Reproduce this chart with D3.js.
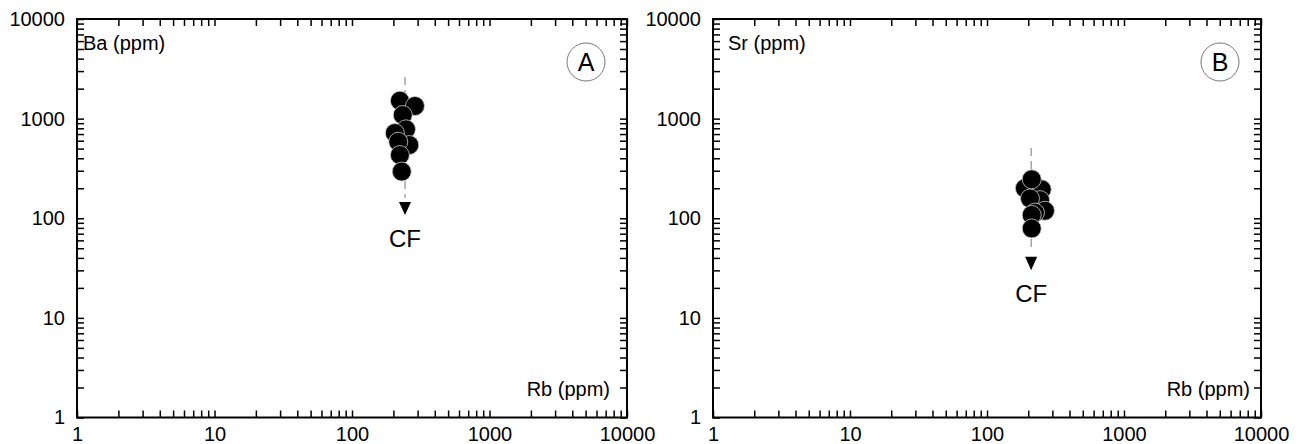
<!DOCTYPE html>
<html>
<head>
<meta charset="utf-8">
<script src="https://cdn.jsdelivr.net/npm/d3@7"></script>
<style>
  html, body { margin: 0; padding: 0; background: #fff; }
  svg { display: block; }
</style>
</head>
<body>
<svg id="chart" width="1306" height="444"></svg>
<script>
// ---- Data ----
const tickLabels = [1, 10, 100, 1000, 10000];

// Panel A: Rb vs Ba
const rbA = [223, 287, 234, 247, 205, 261, 217, 223, 230];
const baA = [1513, 1339, 1087, 781, 717, 543, 586, 431, 294];
// CF trend (Rb, [top, bottom of dashed line], arrow [base, tip])
const cfRbA = 243;
const cfLineA = [2618, 160];
const cfArrowA = [146, 108];

// Panel B: Rb vs Sr
const rbB = [189, 251, 244, 206, 265, 224, 212, 212, 212];
const srB = [200, 195, 152, 158, 119, 114, 108, 246, 79];
const cfRbB = 210;
const cfLineB = [507, 48];
const cfArrowB = [41, 30];

const panelLetters = ["A", "B"];
const yTitles = ["Ba (ppm)", "Sr (ppm)"];
const xTitle = "Rb (ppm)";

// ---- Layout ----
const FONT = "'Liberation Sans', Arial, Helvetica, sans-serif";
const svg = d3.select("#chart");
svg.append("rect").attr("width", 1306).attr("height", 444).attr("fill", "#fff");

const panels = [
  { left: 77, right: 627, top: 19, bottom: 417.5, xs: rbA, ys: baA, cfRb: cfRbA, cfLine: cfLineA, cfArrow: cfArrowA,
    letter: panelLetters[0], yTitle: yTitles[0], yTitleDx: 6, xTitleDx: 17 },
  { left: 713, right: 1261, top: 19, bottom: 417.5, xs: rbB, ys: srB, cfRb: cfRbB, cfLine: cfLineB, cfArrow: cfArrowB,
    letter: panelLetters[1], yTitle: yTitles[1], yTitleDx: 15, xTitleDx: 11 }
];

// all tick values 1..9 x 10^k
const allTicks = [];
for (let k = 0; k < 4; k++) for (let m = 1; m <= 9; m++) allTicks.push(m * Math.pow(10, k));
allTicks.push(10000);

const fmt = d => tickLabels.includes(d) ? String(d) : "";

panels.forEach(p => {
  const x = d3.scaleLog().domain([1, 10000]).range([p.left, p.right]);
  const y = d3.scaleLog().domain([1, 10000]).range([p.bottom, p.top]);
  const g = svg.append("g");

  const styleAxis = sel => {
    sel.select(".domain").remove();
    sel.selectAll(".tick line").attr("stroke", "#000").attr("stroke-width", 1.5);
    sel.selectAll("text").attr("font-family", FONT).attr("font-size", 20).attr("fill", "#000");
  };

  g.append("g").attr("transform", `translate(0,${p.bottom})`)
    .call(d3.axisBottom(x).tickValues(allTicks).tickFormat(fmt).tickSizeInner(-7).tickSizeOuter(0).tickPadding(9))
    .call(styleAxis);
  g.append("g").attr("transform", `translate(0,${p.top})`)
    .call(d3.axisTop(x).tickValues(allTicks).tickFormat("").tickSizeInner(-7).tickSizeOuter(0))
    .call(styleAxis);
  g.append("g").attr("transform", `translate(${p.left},0)`)
    .call(d3.axisLeft(y).tickValues(allTicks).tickFormat(fmt).tickSizeInner(-7).tickSizeOuter(0).tickPadding(12))
    .call(styleAxis);
  g.append("g").attr("transform", `translate(${p.right},0)`)
    .call(d3.axisRight(y).tickValues(allTicks).tickFormat("").tickSizeInner(-7).tickSizeOuter(0))
    .call(styleAxis);

  // frame
  g.append("rect")
    .attr("x", p.left).attr("y", p.top)
    .attr("width", p.right - p.left).attr("height", p.bottom - p.top)
    .attr("fill", "none").attr("stroke", "#000").attr("stroke-width", 2);

  // titles
  g.append("text").attr("x", p.left + p.yTitleDx).attr("y", p.top + 31)
    .attr("font-family", FONT).attr("font-size", 20).text(p.yTitle);
  g.append("text").attr("x", p.right - p.xTitleDx).attr("y", p.bottom - 22)
    .attr("text-anchor", "end").attr("font-family", FONT).attr("font-size", 20).text(xTitle);

  // panel letter
  const cx = p.right - 41, cy = p.top + 43;
  g.append("circle").attr("cx", cx).attr("cy", cy).attr("r", 19)
    .attr("fill", "none").attr("stroke", "#777").attr("stroke-width", 1);
  g.append("text").attr("x", cx).attr("y", cy + 9).attr("text-anchor", "middle")
    .attr("font-family", FONT).attr("font-size", 25).text(p.letter);

  // CF dashed trend
  g.append("line")
    .attr("x1", x(p.cfRb)).attr("x2", x(p.cfRb))
    .attr("y1", y(p.cfLine[0])).attr("y2", y(p.cfLine[1]))
    .attr("stroke", "#777").attr("stroke-width", 1).attr("stroke-dasharray", "8,5");
  const ax = x(p.cfRb), ab = y(p.cfArrow[0]), at = y(p.cfArrow[1]);
  g.append("path")
    .attr("d", `M${ax - 6},${ab} L${ax + 6},${ab} L${ax},${at} Z`)
    .attr("fill", "#000");
  g.append("text").attr("x", ax).attr("y", at + 32).attr("text-anchor", "middle")
    .attr("font-family", FONT).attr("font-size", 24).text("CF");

  // points
  g.append("g").selectAll("circle")
    .data(p.xs.map((v, i) => [v, p.ys[i]]))
    .join("circle")
    .attr("cx", d => x(d[0])).attr("cy", d => y(d[1])).attr("r", 9.5)
    .attr("fill", "#000").attr("stroke", "#ccc").attr("stroke-width", 0.8);
});
</script>
</body>
</html>
